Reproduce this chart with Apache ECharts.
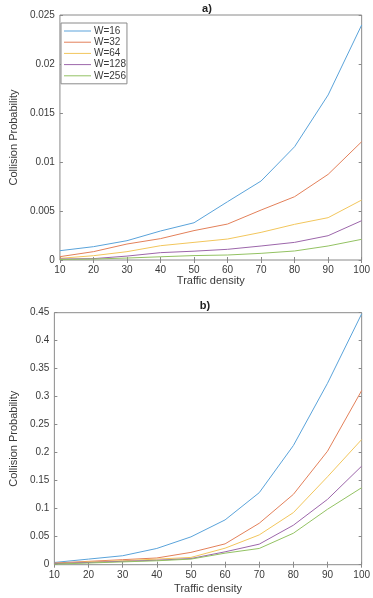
<!DOCTYPE html>
<html>
<head>
<meta charset="utf-8">
<script src="https://cdn.jsdelivr.net/npm/echarts@6/dist/echarts.min.js"></script>
<style>
  html, body { margin: 0; padding: 0; background: #fff; }
  #chart { width: 373px; height: 598px; }
</style>
</head>
<body>
<div id="chart"></div>
<script>
// x轴: Traffic density
const density = [10, 20, 30, 40, 50, 60, 70, 80, 90, 100]
const names = ['W=16', 'W=32', 'W=64', 'W=128', 'W=256']

// a) 碰撞概率
const aW16 = [0.00095, 0.00136, 0.00197, 0.00296, 0.0038, 0.00595, 0.00806, 0.01156, 0.01684, 0.02398]
const aW32 = [0.00034, 0.00085, 0.00163, 0.00218, 0.0030, 0.00367, 0.0051, 0.00646, 0.00874, 0.01207]
const aW64 = [0.00017, 0.00044, 0.00085, 0.00146, 0.0018, 0.00214, 0.00282, 0.00364, 0.00432, 0.00612]
const aW128 = [0.0001, 0.00014, 0.0004, 0.00075, 0.0009, 0.00109, 0.00143, 0.0018, 0.00248, 0.00401]
const aW256 = [0.00005, 0.0001, 0.0002, 0.00033, 0.00045, 0.00051, 0.00068, 0.00092, 0.00143, 0.00211]

// b) 碰撞概率
const bW16 = [0.004, 0.010, 0.016, 0.029, 0.0497, 0.080, 0.1286, 0.2128, 0.324, 0.448]
const bW32 = [0.003, 0.006, 0.009, 0.012, 0.022, 0.0372, 0.074, 0.1256, 0.2027, 0.311]
const bW64 = [0.002, 0.005, 0.007, 0.010, 0.013, 0.0295, 0.0532, 0.093, 0.157, 0.2235]
const bW128 = [0.002, 0.004, 0.006, 0.008, 0.011, 0.023, 0.0367, 0.0705, 0.1167, 0.176]
const bW256 = [0.001, 0.003, 0.005, 0.007, 0.010, 0.0206, 0.029, 0.0562, 0.099, 0.1375]

// 颜色 (matlab默认配色, 稍浅)
const colors = ['#5aa3da', '#e3805a', '#f2c65c', '#9c66aa', '#93c263']
const font = 'Liberation Sans, Arial, sans-serif'
const frameColor = '#8a8a8a'
const textColor = '#3a3a3a'

const pair = vals => density.map((d, i) => [d, vals[i]])

function bottomX(gridIndex, margin, nameGap) {
  return {
    gridIndex,
    type: 'value',
    min: 10,
    max: 100,
    interval: 10,
    name: 'Traffic density',
    nameLocation: 'middle',
    nameGap,
    nameTextStyle: { color: textColor, fontSize: 11, fontFamily: font },
    axisLine: { show: false },
    axisTick: { show: true, inside: true, length: 3, lineStyle: { color: frameColor } },
    axisLabel: { color: textColor, fontSize: 10, fontFamily: font, margin },
    splitLine: { show: false }
  }
}
function topX(gridIndex) {
  return {
    gridIndex,
    type: 'value',
    position: 'top',
    min: 10,
    max: 100,
    interval: 10,
    axisLine: { show: false },
    axisTick: { show: true, inside: true, length: 3, lineStyle: { color: frameColor } },
    axisLabel: { show: false },
    splitLine: { show: false }
  }
}
function leftY(gridIndex, max, interval, nameGap) {
  return {
    gridIndex,
    type: 'value',
    min: 0,
    max,
    interval,
    name: 'Collision Probability',
    nameLocation: 'middle',
    nameGap,
    nameTextStyle: { color: textColor, fontSize: 11, fontFamily: font },
    axisLine: { show: false },
    axisTick: { show: true, inside: true, length: 3, lineStyle: { color: frameColor } },
    axisLabel: { color: textColor, fontSize: 10, fontFamily: font, margin: 5 },
    splitLine: { show: false }
  }
}
function rightY(gridIndex, max, interval) {
  return {
    gridIndex,
    type: 'value',
    position: 'right',
    min: 0,
    max,
    interval,
    axisLine: { show: false },
    axisTick: { show: true, inside: true, length: 3, lineStyle: { color: frameColor } },
    axisLabel: { show: false },
    splitLine: { show: false }
  }
}

const aData = [aW16, aW32, aW64, aW128, aW256]
const bData = [bW16, bW32, bW64, bW128, bW256]
const series = []
aData.forEach((vals, i) => {
  series.push({
    name: names[i], type: 'line', xAxisIndex: 0, yAxisIndex: 0,
    data: pair(vals), symbol: 'none', silent: true,
    lineStyle: { width: 1, color: colors[i] }, itemStyle: { color: colors[i] }
  })
})
bData.forEach((vals, i) => {
  series.push({
    name: names[i], type: 'line', xAxisIndex: 2, yAxisIndex: 2,
    data: pair(vals), symbol: 'none', silent: true,
    lineStyle: { width: 1, color: colors[i] }, itemStyle: { color: colors[i] }
  })
})

const myChart = echarts.init(document.getElementById('chart'))
myChart.setOption({
  animation: false,
  textStyle: { fontFamily: font },
  title: [
    { text: 'a)', left: 207, top: 3, padding: 0, textAlign: 'center', textStyle: { fontSize: 11, fontWeight: 'bold', color: '#222' } },
    { text: 'b)', left: 205, top: 300, padding: 0, textAlign: 'center', textStyle: { fontSize: 11, fontWeight: 'bold', color: '#222' } }
  ],
  legend: {
    data: names,
    orient: 'vertical',
    left: 61,
    top: 23,
    padding: [3, 1, 3, 3],
    icon: 'rect',
    itemWidth: 27,
    itemHeight: 1,
    itemGap: 1.2,
    borderColor: frameColor,
    borderWidth: 1,
    backgroundColor: '#fff',
    textStyle: { color: textColor, fontSize: 10, lineHeight: 10, fontFamily: font, padding: [0, 0, 0, -2] }
  },
  grid: [
    { left: 51.7, top: 15, width: 311.6, height: 245, show: true, borderColor: frameColor, borderWidth: 1 },
    { left: 44.3, top: 312.7, width: 321.7, height: 252, show: true, borderColor: frameColor, borderWidth: 1 }
  ],
  xAxis: [bottomX(0, 5, 14), topX(0), bottomX(1, 6, 19), topX(1)],
  yAxis: [leftY(0, 0.025, 0.005, 38), rightY(0, 0.025, 0.005), leftY(1, 0.45, 0.05, 33), rightY(1, 0.45, 0.05)],
  series
})
</script>
</body>
</html>
